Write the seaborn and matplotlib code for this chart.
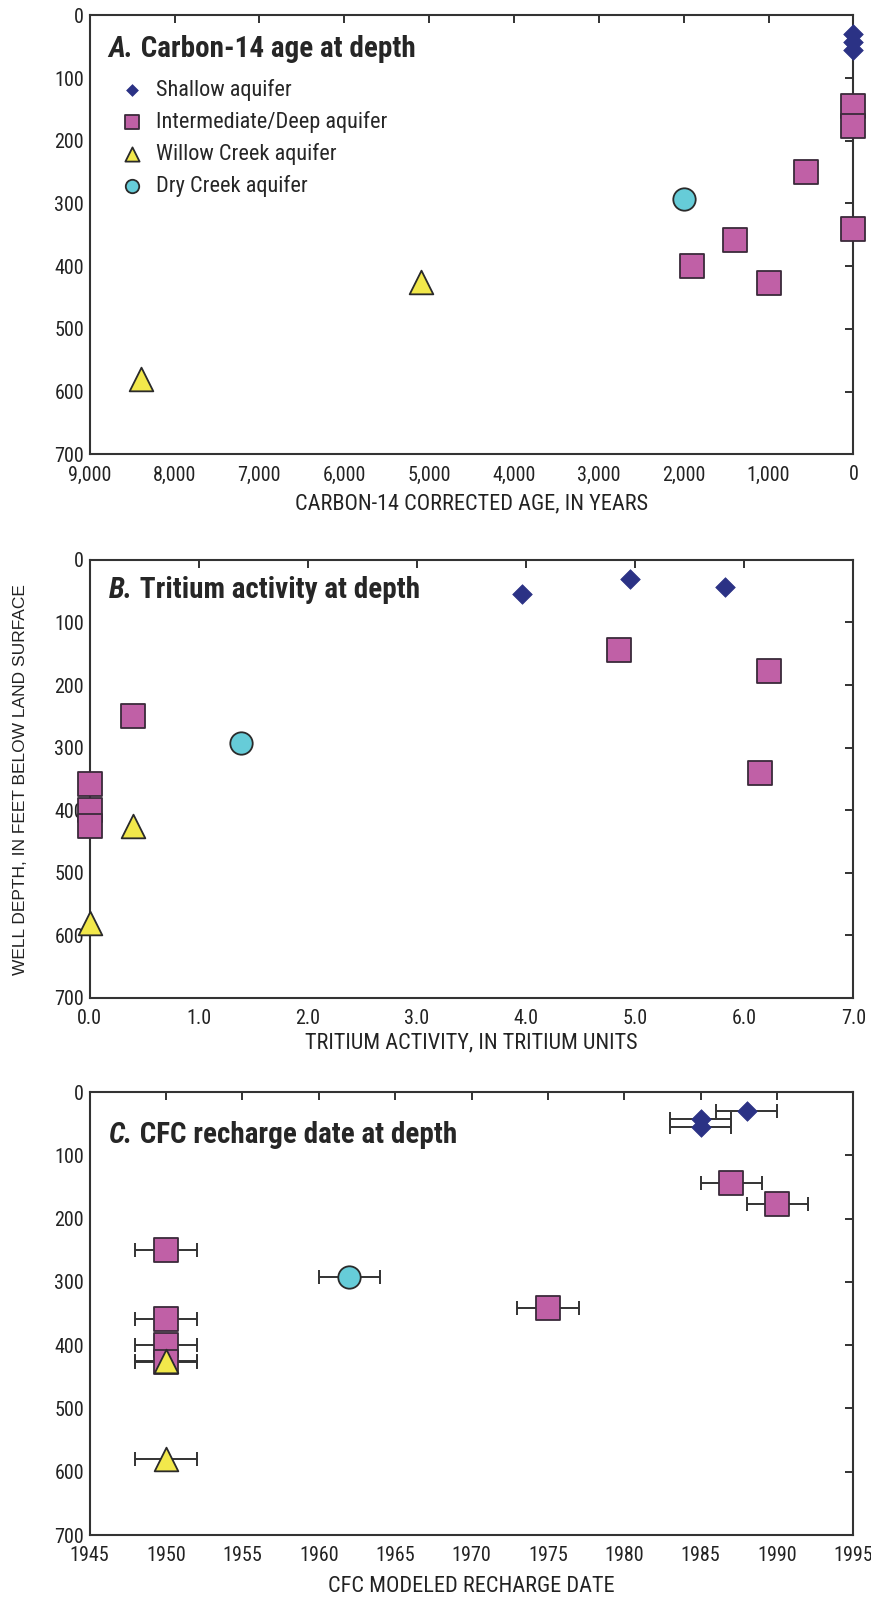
import numpy as np
import pandas as pd
import matplotlib
matplotlib.use("Agg")
import matplotlib.pyplot as plt
import matplotlib.ticker as mticker
import seaborn as sns

# well data (one entry per well)
aquifer = ["Shallow aquifer"] * 3 + ["Intermediate/Deep aquifer"] * 7 + \
          ["Dry Creek aquifer"] + ["Willow Creek aquifer"] * 2
depth = [30, 43, 55, 144, 177, 250, 341, 358, 400, 426, 293, 425, 580]
c14_age = [0, 0, 0, 0, 0, 560, 0, 1400, 1900, 1000, 2000, 5100, 8400]
tritium = [4.95, 5.82, 3.96, 4.85, 6.23, 0.40, 6.14, 0.0, 0.0, 0.0, 1.39, 0.40, 0.0]
cfc_date = [1988, 1985, 1985, 1987, 1990, 1950, 1975, 1950, 1950, 1950, 1962, 1950, 1950]
cfc_err = [2, 2, 2, 2, 2, 2, 2, 2, 2, 2, 2, 2, 2]

legend_order = ["Shallow aquifer", "Intermediate/Deep aquifer",
                "Willow Creek aquifer", "Dry Creek aquifer"]

df = pd.DataFrame({"aquifer": aquifer, "depth": depth, "c14": c14_age,
                   "tritium": tritium, "cfc": cfc_date, "cfc_err": cfc_err})

styles = {
    "Shallow aquifer": dict(marker="D", color="#2B3285", s=100, edgecolor="#2B3285", linewidth=0.5),
    "Intermediate/Deep aquifer": dict(marker="s", color="#C060A6", s=300, edgecolor="#3A2A3A", linewidth=1.3),
    "Willow Creek aquifer": dict(marker="^", color="#F2E84B", s=290, edgecolor="#2A2A2A", linewidth=1.3),
    "Dry Creek aquifer": dict(marker="o", color="#66CCD8", s=260, edgecolor="#2A2A2A", linewidth=1.3),
}

sns.set_theme(style="white")
narrow = ["Roboto Condensed", "Liberation Sans Narrow", "Liberation Sans", "DejaVu Sans"]
plt.rcParams["font.family"] = narrow

fig = plt.figure(figsize=(8.71, 15.97), dpi=100)
axA = fig.add_axes([0.1029, 0.7155, 0.877, 0.2749])
axB = fig.add_axes([0.1029, 0.3751, 0.877, 0.2743])
axC = fig.add_axes([0.1029, 0.0388, 0.877, 0.2774])


def draw(ax, xcol, legend=False):
    for a in ["Shallow aquifer", "Intermediate/Deep aquifer", "Dry Creek aquifer", "Willow Creek aquifer"]:
        sub = df[df["aquifer"] == a]
        sns.scatterplot(data=sub, x=xcol, y="depth", ax=ax, label=a,
                        clip_on=False, zorder=3, legend=legend, **styles[a])


def frame(ax, xlabel, label_y):
    ax.set_ylim(700, 0)
    ax.yaxis.set_major_locator(mticker.MultipleLocator(100))
    ax.tick_params(direction="in", length=6, width=1.3, top=True, right=True,
                   labelsize=14.5, colors="#222222", pad=8)
    ax.tick_params(axis="y", pad=4)
    for sp in ax.spines.values():
        sp.set_color("#333333")
        sp.set_linewidth(1.5)
    ax.set_xlabel(xlabel, fontsize=16, color="#222222")
    ax.xaxis.set_label_coords(0.5, label_y)
    ax.set_ylabel("")
    ax.grid(False)


def panel_title(ax, letter, text, y):
    t = ax.text(0.025, y, letter, transform=ax.transAxes, fontsize=21,
                fontweight="bold", fontstyle="italic", va="baseline", ha="left")
    ax.annotate(" " + text, xy=(1, 0), xycoords=t, fontsize=21,
                fontweight="bold", va="bottom", ha="left")


# A. Carbon-14
draw(axA, "c14", legend=True)
axA.set_xlim(9000, 0)
axA.xaxis.set_major_locator(mticker.MultipleLocator(1000))
axA.xaxis.set_major_formatter(mticker.StrMethodFormatter("{x:,.0f}"))
frame(axA, "CARBON-14 CORRECTED AGE, IN YEARS", -0.09)
panel_title(axA, "A.", "Carbon-14 age at depth", 0.905)
handles, labels = axA.get_legend_handles_labels()
hmap = dict(zip(labels, handles))
axA.legend([hmap[l] for l in legend_order], legend_order, loc="upper left",
           bbox_to_anchor=(0.029, 0.875), frameon=False, fontsize=16,
           handlelength=1.0, handletextpad=0.6, labelspacing=0.45,
           markerscale=0.6, borderaxespad=0)

# B. Tritium
draw(axB, "tritium")
axB.set_xlim(0, 7)
axB.xaxis.set_major_locator(mticker.MultipleLocator(1))
axB.xaxis.set_major_formatter(mticker.StrMethodFormatter("{x:.1f}"))
frame(axB, "TRITIUM ACTIVITY, IN TRITIUM UNITS", -0.078)
panel_title(axB, "B.", "Tritium activity at depth", 0.912)

# C. CFC
axC.errorbar(df["cfc"], df["depth"], xerr=df["cfc_err"], fmt="none", ecolor="#333333",
             elinewidth=1.4, capsize=5, capthick=1.4, zorder=2)
draw(axC, "cfc")
axC.set_xlim(1945, 1995)
axC.xaxis.set_major_locator(mticker.MultipleLocator(5))
frame(axC, "CFC MODELED RECHARGE DATE", -0.093)
panel_title(axC, "C.", "CFC recharge date at depth", 0.885)

fig.text(0.024, 0.512, "WELL DEPTH, IN FEET BELOW LAND SURFACE", rotation=90,
         ha="center", va="center", fontsize=12.5, family=["Liberation Sans", "DejaVu Sans"],
         color="#222222")

fig.savefig("out.png", dpi=100)
